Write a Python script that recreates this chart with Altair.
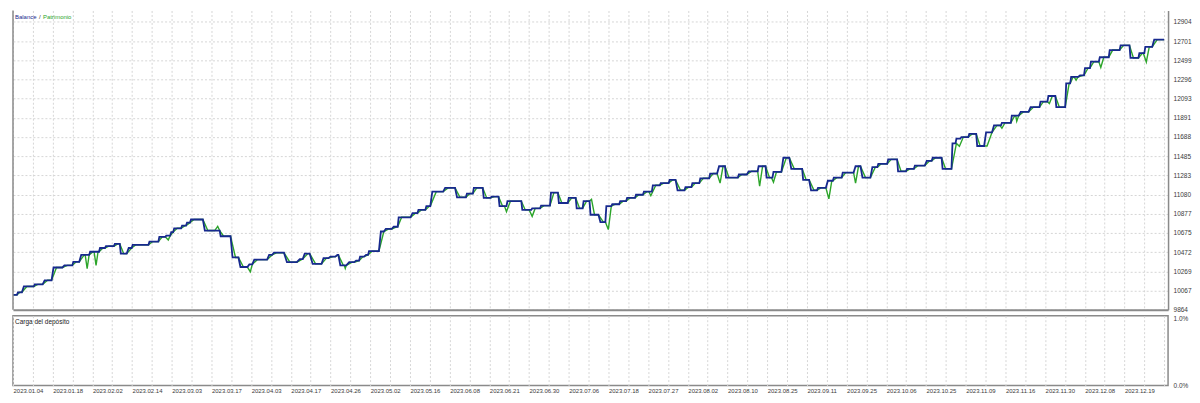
import json
import altair as alt
import pandas as pd

# Balance curve: flat stretches (start position, end position, balance)
BALANCE = [
    (3, 7, 10021), (8, 12, 10048), (14, 24, 10110), (25, 33, 10132), (35, 42, 10175),
    (44, 53, 10310), (55, 63, 10332), (64, 70, 10370), (72, 80, 10443), (81, 90, 10476),
    (91, 96, 10516), (97, 105, 10535), (106, 111, 10559), (112, 118, 10456), (120, 123, 10516),
    (124, 140, 10549), (141, 150, 10583), (151, 157, 10634), (158, 162, 10646), (163, 165, 10684),
    (166, 173, 10724), (174, 178, 10752), (179, 182, 10784), (183, 195, 10817), (197, 212, 10700),
    (213, 223, 10640), (225, 231, 10416), (233, 240, 10315), (242, 245, 10343), (247, 260, 10393),
    (262, 265, 10443), (267, 277, 10466), (280, 290, 10366), (293, 296, 10399), (298, 303, 10456),
    (306, 315, 10349), (317, 322, 10409), (324, 329, 10425), (331, 332, 10443), (334, 340, 10332),
    (343, 348, 10366), (350, 353, 10383), (354, 358, 10425), (360, 362, 10443), (363, 373, 10482),
    (375, 378, 10690), (380, 386, 10717), (388, 392, 10740), (393, 405, 10840), (407, 412, 10884),
    (413, 420, 10918), (421, 425, 10958), (427, 438, 11111), (440, 450, 11151), (452, 461, 11051),
    (462, 468, 11091), (469, 478, 11151), (479, 486, 11045), (487, 494, 11058), (495, 502, 10958),
    (503, 517, 11010), (518, 527, 10918), (528, 536, 10934), (537, 546, 10963), (547, 554, 11101),
    (555, 564, 10991), (565, 572, 11045), (573, 579, 10934), (580, 586, 11011), (587, 595, 10867),
    (597, 602, 10790), (603, 608, 10958), (609, 616, 10978), (617, 623, 11011), (624, 632, 11045),
    (633, 640, 11078), (641, 649, 11111), (650, 657, 11178), (658, 666, 11201), (667, 673, 11235),
    (675, 682, 11125), (683, 689, 11158), (690, 697, 11201), (698, 707, 11252), (708, 715, 11302),
    (717, 723, 11379), (724, 736, 11259), (737, 745, 11292), (747, 756, 11326), (757, 764, 11379),
    (765, 771, 11259), (772, 780, 11319), (782, 788, 11469), (790, 801, 11352), (802, 808, 11236),
    (810, 816, 11125), (817, 825, 11151), (827, 832, 11226), (833, 841, 11259), (842, 853, 11312),
    (855, 860, 11379), (862, 870, 11259), (872, 877, 11369), (878, 887, 11405), (888, 897, 11452),
    (898, 906, 11326), (907, 914, 11352), (915, 925, 11386), (927, 932, 11436), (933, 942, 11469),
    (943, 952, 11352), (953, 956, 11620), (957, 961, 11670), (962, 969, 11687), (970, 977, 11720),
    (978, 985, 11593), (987, 993, 11737), (995, 1002, 11810), (1003, 1012, 11837), (1013, 1020, 11914),
    (1022, 1030, 11954), (1032, 1041, 12004), (1042, 1049, 12061), (1050, 1057, 12121), (1058, 1067, 12004),
    (1068, 1072, 12255), (1073, 1080, 12322), (1082, 1086, 12339), (1087, 1092, 12415), (1093, 1101, 12483),
    (1102, 1111, 12530), (1112, 1122, 12606), (1123, 1132, 12656), (1133, 1141, 12523), (1142, 1147, 12573),
    (1148, 1155, 12640), (1157, 1167, 12716),
]

# Equity curve (Patrimonio): stretches and dips
EQUITY = [
    (3, 7, 10021), (10, 12, 10048), (17, 24, 10110), (28, 33, 10132), (38, 42, 10175),
    (47, 53, 10310), (58, 63, 10332), (67, 70, 10370), (75, 76, 10443), (78, 78, 10298),
    (80, 80, 10443), (84, 85, 10476), (87, 87, 10332), (89, 90, 10476), (94, 96, 10516),
    (100, 105, 10535), (109, 111, 10559), (115, 118, 10456), (123, 123, 10516), (127, 140, 10549),
    (144, 150, 10583), (154, 157, 10634), (160, 160, 10600), (162, 162, 10646), (165, 165, 10684),
    (169, 173, 10724), (177, 178, 10752), (182, 182, 10784), (186, 195, 10817), (200, 207, 10700),
    (210, 210, 10745), (212, 212, 10700), (216, 223, 10640), (228, 231, 10416), (236, 240, 10315),
    (243, 243, 10265), (245, 245, 10343), (250, 260, 10393), (265, 265, 10443), (270, 277, 10466),
    (283, 290, 10366), (296, 296, 10399), (301, 303, 10456), (309, 315, 10349), (320, 322, 10409),
    (327, 329, 10425), (332, 332, 10443), (337, 338, 10332), (339, 339, 10300), (340, 340, 10332),
    (346, 348, 10366), (353, 353, 10383), (357, 358, 10425), (362, 362, 10443), (366, 373, 10482),
    (378, 378, 10690), (383, 386, 10717), (391, 392, 10740), (396, 405, 10840), (410, 412, 10884),
    (416, 420, 10918), (424, 425, 10958), (431, 438, 11111), (443, 450, 11151), (455, 461, 11051),
    (465, 468, 11091), (472, 478, 11151), (482, 486, 11045), (490, 494, 11058), (498, 500, 10958),
    (502, 502, 10900), (506, 517, 11010), (521, 525, 10918), (528, 528, 10850), (531, 536, 10934),
    (540, 546, 10963), (550, 554, 11101), (558, 564, 10991), (568, 572, 11045), (576, 579, 10934),
    (583, 586, 11011), (588, 588, 11030), (591, 595, 10867), (600, 602, 10790), (605, 605, 10710),
    (608, 608, 10958), (612, 616, 10978), (620, 623, 11011), (627, 632, 11045), (636, 640, 11078),
    (644, 646, 11111), (648, 648, 11068), (653, 657, 11178), (661, 666, 11201), (670, 673, 11235),
    (678, 682, 11125), (686, 689, 11158), (693, 697, 11201), (701, 707, 11252), (711, 715, 11302),
    (718, 718, 11201), (721, 723, 11379), (727, 736, 11259), (740, 745, 11292), (750, 756, 11326),
    (758, 758, 11168), (761, 764, 11379), (768, 770, 11259), (772, 772, 11210), (775, 780, 11319),
    (785, 788, 11469), (793, 801, 11352), (805, 808, 11236), (813, 816, 11125), (820, 825, 11151),
    (828, 828, 11035), (831, 832, 11226), (836, 841, 11259), (845, 853, 11312), (855, 855, 11201),
    (858, 860, 11379), (865, 870, 11259), (875, 877, 11369), (881, 887, 11405), (891, 897, 11452),
    (901, 906, 11326), (910, 914, 11352), (918, 925, 11386), (930, 932, 11436), (936, 942, 11469),
    (946, 952, 11352), (957, 957, 11620), (960, 960, 11590), (964, 969, 11687), (973, 977, 11720),
    (981, 988, 11593), (993, 993, 11737), (998, 1001, 11810), (1003, 1003, 11780), (1006, 1012, 11837),
    (1016, 1017, 11914), (1018, 1018, 11854), (1020, 1020, 11914), (1025, 1030, 11954), (1035, 1041, 12004),
    (1045, 1049, 12061), (1051, 1051, 12041), (1054, 1057, 12121), (1061, 1067, 12004), (1071, 1072, 12255),
    (1075, 1076, 12322), (1078, 1078, 12289), (1080, 1080, 12322), (1085, 1086, 12339), (1090, 1092, 12415),
    (1096, 1101, 12483), (1103, 1103, 12423), (1106, 1111, 12530), (1115, 1122, 12606), (1126, 1132, 12656),
    (1136, 1141, 12523), (1145, 1146, 12573), (1149, 1149, 12480), (1152, 1155, 12640), (1160, 1167, 12716),
]

Y_TICKS = [9864, 10067, 10269, 10472, 10675, 10877, 11080, 11283, 11485, 11688,
           11891, 12093, 12296, 12499, 12701, 12904]
DATE_LABELS = [
    "2023.01.04", "2023.01.18", "2023.02.02", "2023.02.14", "2023.03.03", "2023.03.17",
    "2023.04.03", "2023.04.17", "2023.04.26", "2023.05.02", "2023.05.16", "2023.06.08",
    "2023.06.21", "2023.06.30", "2023.07.06", "2023.07.18", "2023.07.27", "2023.08.02",
    "2023.08.10", "2023.08.25", "2023.09.11", "2023.09.25", "2023.10.06", "2023.10.25",
    "2023.11.09", "2023.11.16", "2023.11.30", "2023.12.08", "2023.12.19",
]
LOAD_TICKS = [0, 0.01]

X_MIN, X_MAX = 3, 1171
STEP = 20.07
GRID_X = [X_MIN + STEP * k for k in range(59)]

W, H1, H2 = 1158, 300, 70
FONT = "Liberation Sans"
GRID_COLOR = "#d6d6d6"
FRAME = "#8a8a8a"
BLUE = "#17298e"
GREEN = "#2ca52a"
TEXT = "#3a3a3a"


def to_rows(segments, name):
    rows = []
    for xs, xe, lvl in segments:
        rows.append({"n": xs, "v": lvl, "serie": name})
        if xe != xs:
            rows.append({"n": xe, "v": lvl, "serie": name})
    for i, r in enumerate(rows):
        r["o"] = i
    return rows


bal_df = pd.DataFrame(to_rows(BALANCE, "Balance"))
eq_df = pd.DataFrame(to_rows(EQUITY, "Patrimonio"))

x_scale = alt.Scale(domain=[X_MIN, X_MAX], nice=False, zero=False)
y_scale = alt.Scale(domain=[9864, 13024], nice=False, zero=False)

x_top = alt.X(
    "n:Q", scale=x_scale,
    axis=alt.Axis(values=GRID_X, tickCount=200, labels=False, ticks=False, title=None,
                  grid=True, gridColor=GRID_COLOR, gridDash=[2, 2], gridWidth=1,
                  domain=True, domainColor=FRAME, domainWidth=2),
)
y_top = alt.Y(
    "v:Q", scale=y_scale,
    axis=alt.Axis(orient="right", values=Y_TICKS, tickCount=100, format="d", ticks=False,
                  title=None, labelFont=FONT, labelFontSize=6.5, labelColor=TEXT,
                  labelPadding=5, labelOverlap=False, labelBound=False,
                  grid=True, gridColor=GRID_COLOR, gridDash=[2, 2], gridWidth=1,
                  domain=True, domainColor=FRAME, domainWidth=1.5, labelFlush=False),
)

eq_line = alt.Chart(eq_df).mark_line(color=GREEN, strokeWidth=1.4).encode(
    x=x_top, y=y_top, order="o:Q")
bal_line = alt.Chart(bal_df).mark_line(color=BLUE, strokeWidth=1.8).encode(
    x=alt.X("n:Q", scale=x_scale), y=alt.Y("v:Q", scale=y_scale), order="o:Q")

left_border = alt.Chart(pd.DataFrame({"n": [X_MIN]})).mark_rule(
    color=FRAME, strokeWidth=1.5).encode(x=alt.X("n:Q", scale=x_scale))

legend_parts = [("Balance", BLUE, 2), ("/", "#333333", 26), ("Patrimonio", GREEN, 30)]
legend_layers = [
    alt.Chart(pd.DataFrame({"t": [txt]})).mark_text(
        align="left", baseline="middle", font=FONT, fontSize=6, color=col
    ).encode(text="t:N", x=alt.value(px), y=alt.value(7))
    for txt, col, px in legend_parts
]

top = alt.layer(eq_line, bal_line, left_border, *legend_layers).properties(
    width=W, height=H1, view=alt.ViewBackground(stroke="transparent"))

label_expr = (
    f"(round((datum.value-{X_MIN})/{STEP}) % 2 == 0) ? "
    f"{json.dumps(DATE_LABELS)}[round((datum.value-{X_MIN})/{2 * STEP})] : ''"
)

load_df = pd.DataFrame({"n": [X_MIN, X_MAX], "load": [0.0, 0.0]})
load_base = alt.Chart(load_df).mark_line(opacity=0).encode(
    x=alt.X("n:Q", scale=x_scale,
            axis=alt.Axis(values=GRID_X, tickCount=200, labelExpr=label_expr, ticks=False,
                          title=None, labelAlign="left", labelFont=FONT, labelFontSize=6,
                          labelColor=TEXT, labelPadding=2, labelFlush=False,
                          labelOverlap=False, labelBound=False,
                          grid=True, gridColor=GRID_COLOR, gridDash=[2, 2], gridWidth=1,
                          domain=False)),
    y=alt.Y("load:Q", scale=alt.Scale(domain=[0, 0.01], nice=False),
            axis=alt.Axis(orient="right", values=LOAD_TICKS, format=".1%", ticks=False,
                          title=None, labelFont=FONT, labelFontSize=6.5,
                          labelColor=TEXT, labelPadding=5, grid=False, domain=False,
                          labelOverlap=False,
                          labelBaseline={"condition": {"test": "datum.value > 0.005",
                                                       "value": "top"},
                                         "value": "middle"})),
)
load_title = alt.Chart(pd.DataFrame({"t": ["Carga del depósito"]})).mark_text(
    align="left", baseline="middle", font=FONT, fontSize=6.5, color="#222222"
).encode(text="t:N", x=alt.value(2), y=alt.value(6))

bottom = alt.layer(load_base, load_title).properties(
    width=W, height=H2,
    view=alt.ViewBackground(stroke=FRAME, strokeWidth=1.5))

chart = alt.vconcat(top, bottom, spacing=1).properties(padding=0).configure(
    background="white")

chart.save("out.html", embed_options={"renderer": "svg", "actions": False})
